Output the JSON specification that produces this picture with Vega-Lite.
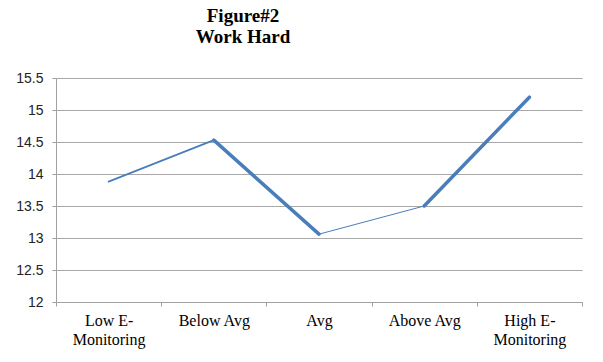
{
  "$schema": "https://vega.github.io/schema/vega-lite/v6.json",
  "autosize": "none",
  "width": 526,
  "height": 224,
  "padding": {"left": 56, "top": 78, "right": 21, "bottom": 60},
  "background": "white",
  "title": {
    "text": ["Figure#2", "Work Hard"],
    "font": "Liberation Serif",
    "fontSize": 19,
    "fontWeight": "bold",
    "color": "#000000",
    "anchor": "middle",
    "frame": "group",
    "dx": -76,
    "baseline": "bottom",
    "lineHeight": 21,
    "offset": 5
  },
  "data": {
    "values": [
      {"cat": "Low E-Monitoring", "value": 13.88},
      {"cat": "Below Avg", "value": 14.53},
      {"cat": "Avg", "value": 13.06},
      {"cat": "Above Avg", "value": 13.5},
      {"cat": "High E-Monitoring", "value": 15.2}
    ]
  },
  "transform": [
    {"window": [{"op": "lead", "field": "cat", "as": "next_cat"}, {"op": "lead", "field": "value", "as": "next_value"}]},
    {"filter": "datum.next_cat != null"}
  ],
  "mark": {"type": "rule", "color": "#4a7ebb", "strokeCap": "round"},
  "encoding": {
    "x": {
      "field": "cat",
      "type": "nominal",
      "sort": null,
      "scale": {"domain": ["Low E-Monitoring", "Below Avg", "Avg", "Above Avg", "High E-Monitoring"], "paddingInner": 0, "paddingOuter": 0},
      "axis": {
        "title": null,
        "labelAngle": 0,
        "labelFont": "Liberation Serif",
        "labelFontSize": 16,
        "labelColor": "#000000",
        "labelLineHeight": 19,
        "labelExpr": "split(replace(datum.label, 'E-', 'E-|'), '|')",
        "tickBand": "extent",
        "tickSize": 4,
        "tickColor": "#a0a0a0",
        "domainColor": "#a0a0a0",
        "labelPadding": 6,
        "grid": false
      }
    },
    "x2": {"field": "next_cat"},
    "y": {
      "field": "value",
      "type": "quantitative",
      "scale": {"domain": [12, 15.5], "nice": false, "zero": false},
      "axis": {
        "title": null,
        "values": [12, 12.5, 13, 13.5, 14, 14.5, 15, 15.5],
        "format": ".1~f",
        "labelFont": "Liberation Sans",
        "labelFontSize": 14,
        "labelColor": "#222222",
        "tickSize": 4,
        "tickColor": "#a0a0a0",
        "domainColor": "#a0a0a0",
        "gridColor": "#a8a8a8",
        "labelPadding": 9
      }
    },
    "y2": {"field": "next_value"},
    "strokeWidth": {
      "condition": [
        {"test": "datum.cat === 'Below Avg' || datum.cat === 'Above Avg'", "value": 3.5},
        {"test": "datum.cat === 'Avg'", "value": 1}
      ],
      "value": 1.8
    }
  },
  "config": {"view": {"stroke": null}}
}
